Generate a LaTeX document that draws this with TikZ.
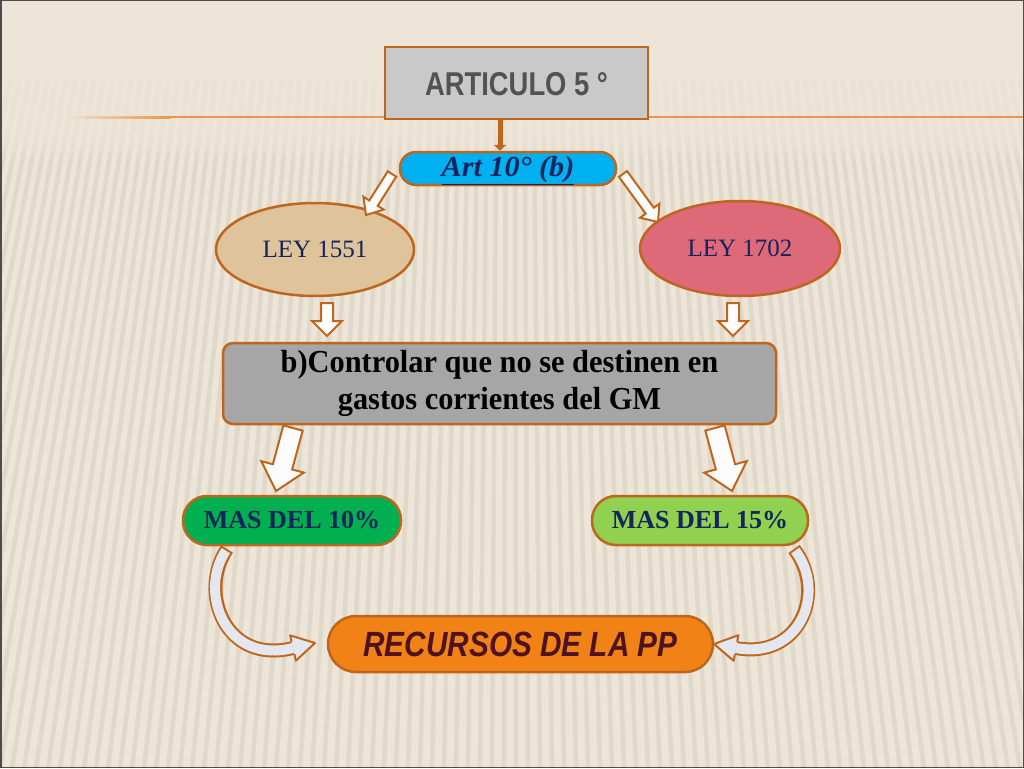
\documentclass[tikz,border=0pt]{standalone}
\usepackage{fontspec}
\setmainfont{Liberation Serif}
\newfontfamily\sansf{Liberation Sans}
\usetikzlibrary{calc,arrows.meta,shapes.geometric}
\definecolor{bgc}{RGB}{236,229,216}
\definecolor{stripec}{RGB}{196,186,168}
\definecolor{brd}{RGB}{190,102,30}
\definecolor{hline}{RGB}{232,150,72}
\definecolor{artfill}{RGB}{201,201,201}
\definecolor{arttext}{RGB}{82,82,82}
\definecolor{cyanf}{RGB}{0,176,240}
\definecolor{navy}{RGB}{20,36,92}
\definecolor{tanf}{RGB}{222,195,155}
\definecolor{pinkf}{RGB}{222,105,121}
\definecolor{grayf}{RGB}{166,166,166}
\definecolor{greenf}{RGB}{0,176,80}
\definecolor{lgreenf}{RGB}{146,208,80}
\definecolor{orangef}{RGB}{240,130,22}
\definecolor{maroonc}{RGB}{78,18,32}
\definecolor{arrowf}{RGB}{252,252,252}
\definecolor{curvef}{RGB}{228,231,238}
\newcommand{\blockarrow}[5]{%
  \coordinate (bh) at ($(#2)!#5!(#1)$);
  \draw[barrow] ($(#1)!#3!90:(#2)$) -- ($(bh)!#3!-90:(#1)$) -- ($(bh)!#4!-90:(#1)$)
    -- (#2) -- ($(bh)!#4!90:(#1)$) -- ($(bh)!#3!90:(#1)$) -- ($(#1)!#3!-90:(#2)$) -- cycle;}
\newcommand{\curvehead}[2]{%
  \fill[curvef] ($(#1)!13pt!90:(#2)$) -- (#2) -- ($(#1)!13pt!-90:(#2)$) -- cycle;
  \draw[brd, line width=2pt, line join=round] ($(#1)!6.5pt!90:(#2)$) -- ($(#1)!13pt!90:(#2)$)
    -- (#2) -- ($(#1)!13pt!-90:(#2)$) -- ($(#1)!6.5pt!-90:(#2)$);}
\tikzset{
  shapebase/.style={draw=brd, line width=2.5pt, inner sep=0pt, align=center},
  barrow/.style={draw=brd, line width=2pt, fill=arrowf, line join=miter},
  pill/.style={shapebase, rectangle, rounded corners=#1},
  navytext/.style={text=navy},
}
\begin{document}
\begin{tikzpicture}[x=1pt,y=-1pt]
\useasboundingbox (0,0) rectangle (1024,768);
\fill[bgc] (0,0) rectangle (1024,768);
% background stripes
\begin{scope}
\clip (0,0) rectangle (1024,768);
\foreach \i in {-240,-228,...,1280}
  \draw[stripec, line width=4.5pt, opacity=0.28] (\i,768) -- ({\i+0.22*(512-\i)},80);
\foreach \k in {1,...,10}
  \fill[bgc, opacity=0.3] (0,0) rectangle (1024,{88+\k*7});
\end{scope}
% orange horizontal rule
\shade[left color=bgc, right color=hline] (65,116) rectangle (170,118);
\fill[hline] (170,116) rectangle (1024,118);
% frame
\draw[black!70, line width=1.5pt] (0.75,0.75) rectangle (1023.25,767.25);

% nodes
\node[shapebase, rectangle, fill=artfill, minimum width=263, minimum height=72,
      text=arttext, text height=24pt, text depth=0pt,
      font=\sansf\bfseries\fontsize{33}{33}\selectfont] (art) at (516.5,83)
      {\scalebox{0.83}[1]{ARTICULO 5 °}};
\node[pill=16pt, fill=cyanf, minimum width=216, minimum height=33, navytext,
      text height=18pt, text depth=2pt,
      font=\bfseries\itshape\fontsize{29}{29}\selectfont] (a10) at (508,168.5)
      {\scalebox{1.04}[1]{\underline{Art 10° (b)}}};
\node[shapebase, ellipse, fill=tanf, minimum width=198, minimum height=93, navytext,
      font=\fontsize{25}{25}\selectfont] (l1) at (315,249.5) {LEY 1551};
\node[shapebase, ellipse, fill=pinkf, minimum width=200, minimum height=95, navytext,
      font=\fontsize{25}{25}\selectfont] (l2) at (740,248.5) {LEY 1702};
\node[pill=10pt, fill=grayf, minimum width=553, minimum height=81, text=black,
      font=\bfseries\fontsize{32}{37}\selectfont] (main) at (499.5,383.5)
      {\scalebox{0.95}[1]{b)Controlar que no se destinen en}\\\scalebox{0.95}[1]{gastos corrientes del GM}};
\node[pill=24pt, fill=greenf, minimum width=218, minimum height=49, navytext,
      font=\bfseries\fontsize{26}{26}\selectfont] (m10) at (292,520.5) {MAS DEL 10\%};
\node[pill=24pt, fill=lgreenf, minimum width=216, minimum height=49, navytext,
      font=\bfseries\fontsize{26}{26}\selectfont] (m15) at (700,520.5) {MAS DEL 15\%};
\node[pill=28pt, fill=orangef, minimum width=385, minimum height=56, text=maroonc,
      font=\sansf\bfseries\itshape\fontsize{35}{35}\selectfont] (rec) at (520.5,644)
      {\scalebox{0.85}[1]{RECURSOS DE LA PP}};

% connector article -> art 10
\draw[brd, line width=5pt, -{Triangle[width=12pt,length=6pt]}]
  ([xshift=-16.5pt]art.south) -- ([xshift=-8pt]a10.north);

% block arrows
\coordinate (s1) at (392,174); \coordinate (e1) at (366,215);
\coordinate (s2) at (623,174); \coordinate (e2) at (658,222);
\coordinate (s3) at (327,303); \coordinate (e3) at (327,336);
\coordinate (s4) at (733,303); \coordinate (e4) at (733,336);
\coordinate (s5) at (293,428); \coordinate (e5) at (276,491);
\coordinate (s6) at (715,428); \coordinate (e6) at (732,491);
\blockarrow{s1}{e1}{5pt}{12pt}{14pt}
\blockarrow{s2}{e2}{5pt}{12pt}{14pt}
\blockarrow{s3}{e3}{6pt}{15pt}{15pt}
\blockarrow{s4}{e4}{6pt}{15pt}{15pt}
\blockarrow{s5}{e5}{10pt}{22pt}{25pt}
\blockarrow{s6}{e6}{10pt}{22pt}{25pt}

% curved arrows
\coordinate (c1s) at (227,549); \coordinate (c1h) at (293,648); \coordinate (c1t) at (315,643);
\draw[brd, line width=14pt] (c1s) .. controls (198,592) and (225,665) .. (c1h);
\draw[curvef, line width=10pt, shorten <=2pt] (c1s) .. controls (198,592) and (225,665) .. (c1h);
\curvehead{c1h}{c1t}
\coordinate (c2s) at (794,549); \coordinate (c2h) at (736,648); \coordinate (c2t) at (714,644);
\draw[brd, line width=14pt] (c2s) .. controls (827,592) and (800,660) .. (c2h);
\draw[curvef, line width=10pt, shorten <=2pt] (c2s) .. controls (827,592) and (800,660) .. (c2h);
\curvehead{c2h}{c2t}
\end{tikzpicture}
\end{document}
